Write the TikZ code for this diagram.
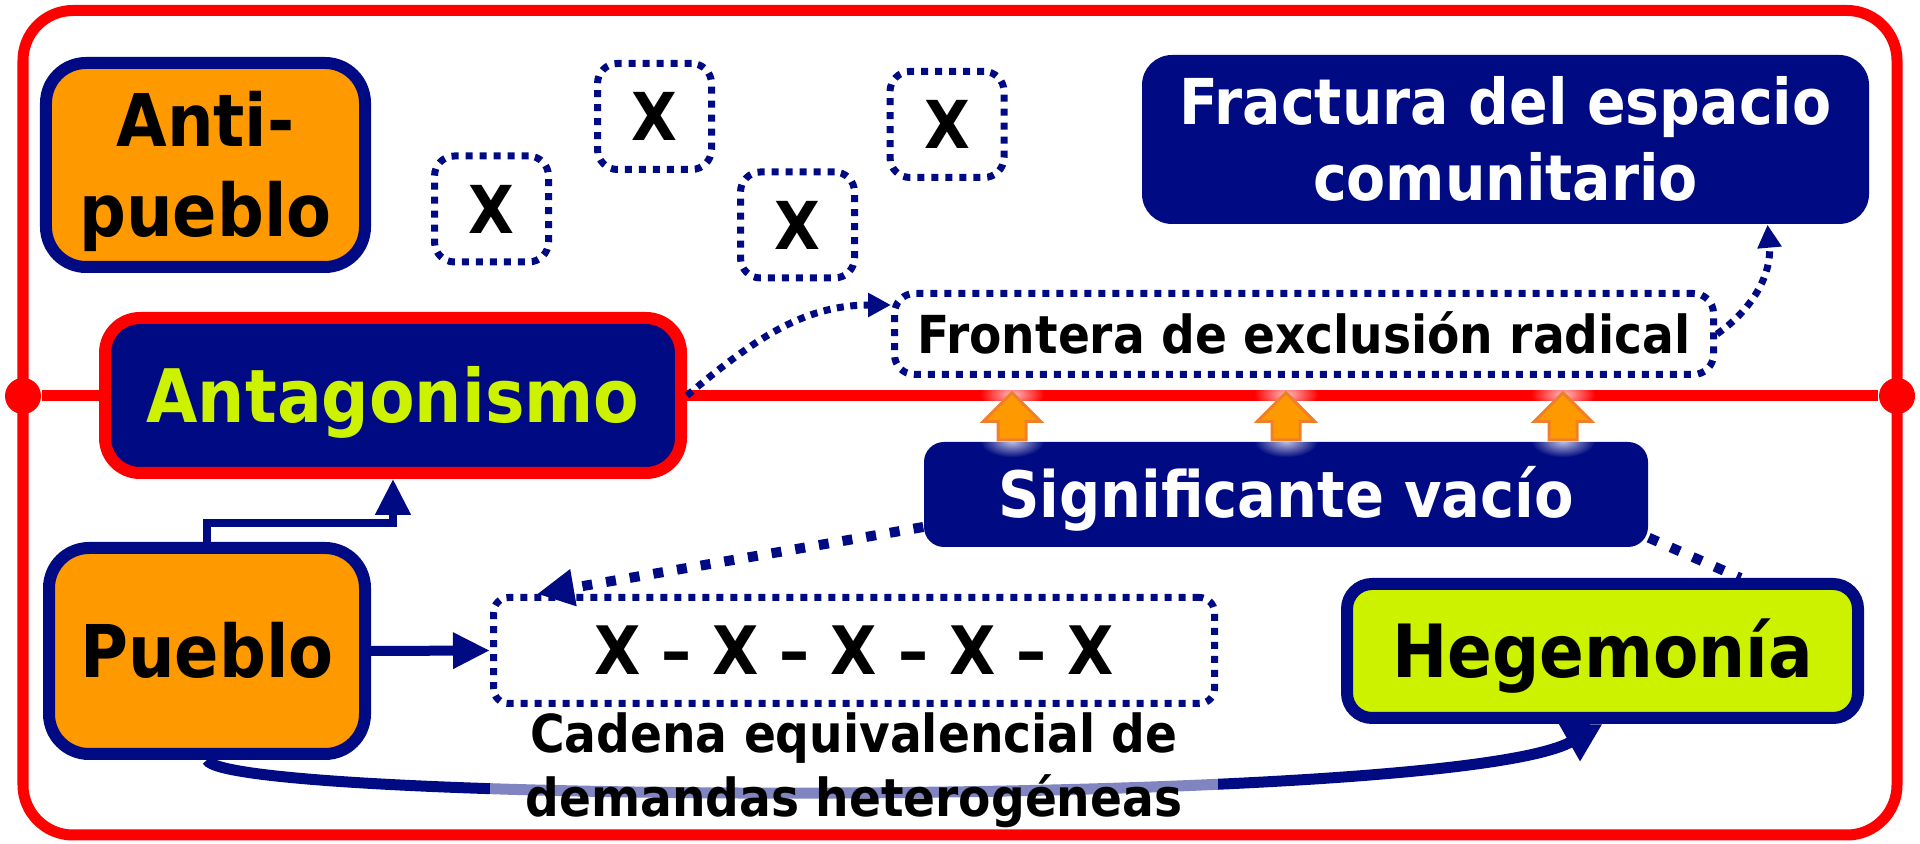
\documentclass[tikz,border=0pt]{standalone}
\usepackage{fontspec}
\setmainfont{DejaVu Sans Condensed}
\usetikzlibrary{arrows.meta,shapes.arrows,fadings}

\definecolor{navyblue}{RGB}{0,10,130}
\definecolor{peorange}{RGB}{255,153,0}
\definecolor{limegreen}{RGB}{204,242,0}
\definecolor{arrowedge}{RGB}{240,128,40}

\tikzfading[name=glowfade, inner color=transparent!25, outer color=transparent!100]

\begin{document}
\begin{tikzpicture}[
                        >={Triangle[length=0.36cm,width=0.34cm]},
                        orangebox/.style={rectangle, rounded corners=0.4cm, draw=navyblue, line width=0.12cm, fill=peorange, inner sep=0pt, align=center},
                        dotbox/.style={rectangle, rounded corners=0.2cm, draw=navyblue, line width=0.07cm, dash pattern=on 0.07cm off 0.07cm, fill=white, inner sep=0pt, align=center},
                        navybox/.style={rectangle, rounded corners=0.25cm, fill=navyblue, text=white, inner sep=0pt, align=center},
                        dotline/.style={navyblue, line width=0.07cm, dash pattern=on 0.07cm off 0.065cm},
                        dashline/.style={navyblue, line width=0.1cm, dash pattern=on 0.1cm off 0.14cm},
                        upblock/.style={single arrow, rotate=90, draw=arrowedge, fill=peorange, line width=0.03cm, minimum height=0.47cm, single arrow head extend=0.145cm, inner xsep=0pt, inner ysep=0.125cm}
                    ]
                    \useasboundingbox (0,0) rectangle (19.2,-8.44);

                    % Frame and border line
                    \draw [red, line width=0.11cm, rounded corners=0.5cm] (0.23,-0.105) rectangle (18.97,-8.35);
                    \node [circle, fill=red, minimum size=0.36cm, inner sep=0pt] (dotL) at (0.23,-3.96) {};
                    \node [circle, fill=red, minimum size=0.36cm, inner sep=0pt] (dotR) at (18.97,-3.96) {};
                    \draw [red, line width=0.11cm] (dotL) -- (dotR);

                    % Blocks
                    \node [orangebox, minimum width=3.19cm, minimum height=2.04cm, text height=40.7pt, text depth=0pt, font=\bfseries\fontsize{20.7}{25.6}\selectfont] (antipueblo) at (2.055,-1.65) {Anti-\\pueblo};
                    \node [dotbox, minimum width=1.14cm, minimum height=1.06cm, text height=13.7pt, text depth=0pt, font=\bfseries\fontsize{18.8}{22}\selectfont] (x1) at (4.915,-2.09) {X};
                    \node [dotbox, minimum width=1.14cm, minimum height=1.06cm, text height=13.7pt, text depth=0pt, font=\bfseries\fontsize{18.8}{22}\selectfont] (x2) at (6.545,-1.165) {X};
                    \node [dotbox, minimum width=1.14cm, minimum height=1.06cm, text height=13.7pt, text depth=0pt, font=\bfseries\fontsize{18.8}{22}\selectfont] (x3) at (7.975,-2.25) {X};
                    \node [dotbox, minimum width=1.14cm, minimum height=1.06cm, text height=13.7pt, text depth=0pt, font=\bfseries\fontsize{18.8}{22}\selectfont] (x4) at (9.47,-1.245) {X};
                    \node [navybox, rounded corners=0.3cm, minimum width=7.27cm, minimum height=1.69cm, text height=34.7pt, text depth=0pt, font=\bfseries\fontsize{18}{21.6}\selectfont] (fractura) at (15.055,-1.395) {Fractura del espacio\\comunitario};
                    \node [dotbox, minimum width=8.19cm, minimum height=0.81cm, text height=10.9pt, text depth=0pt, font=\bfseries\fontsize{14.9}{18}\selectfont] (frontera) at (13.04,-3.34) {Frontera de exclusión radical};
                    \node [navybox, draw=red, line width=0.12cm, rounded corners=0.35cm, text=limegreen, minimum width=5.76cm, minimum height=1.55cm, text height=15.3pt, text depth=0pt, font=\bfseries\fontsize{21}{25}\selectfont] (antagonismo) at (3.93,-3.955) {Antagonismo};
                    \node [navybox, rounded corners=0.2cm, minimum width=7.24cm, minimum height=1.05cm, text height=13.2pt, text depth=0pt, font=\bfseries\fontsize{18.2}{22}\selectfont] (significante) at (12.86,-4.945) {Significante vacío};
                    \node [orangebox, minimum width=3.16cm, minimum height=2.06cm, text height=15.1pt, text depth=0pt, font=\bfseries\fontsize{20.7}{25}\selectfont] (pueblo) at (2.07,-6.51) {Pueblo};
                    \node [orangebox, rounded corners=0.25cm, fill=limegreen, minimum width=5.11cm, minimum height=1.34cm, text height=15.2pt, text depth=0pt, font=\bfseries\fontsize{20.9}{25}\selectfont] (hegemonia) at (16.025,-6.51) {Hegemonía};
                    \node [dotbox, rounded corners=0.15cm, minimum width=7.21cm, minimum height=1.06cm, text height=13.9pt, text depth=0pt, font=\bfseries\fontsize{19}{23}\selectfont] (chain) at (8.54,-6.505) {X -- X -- X -- X -- X};

                    % Glow and block arrows
                    \foreach \dx in {-2.74,0,2.77} {
                        \fill [white, path fading=glowfade] ([xshift=\dx cm]significante.north) ellipse (0.32cm and 0.16cm);
                        \fill [white, path fading=glowfade] ([xshift=\dx cm, yshift=0.47cm]significante.north) ellipse (0.32cm and 0.16cm);
                    }
                    \node [upblock, anchor=tail] (up1) at ([xshift=-2.74cm]significante.north) {};
                    \node [upblock, anchor=tail] (up2) at (significante.north) {};
                    \node [upblock, anchor=tail] (up3) at ([xshift=2.77cm]significante.north) {};

                    % Connections
                    \draw [dotline, -{Triangle[length=0.23cm,width=0.23cm]}] (antagonismo.east) to[out=40, in=180] ([yshift=0.29cm]frontera.west);
                    \draw [dotline, -{Triangle[length=0.23cm,width=0.23cm]}] (frontera.east) to[out=35, in=-85] ([xshift=2.62cm]fractura.south);
                    \draw [navyblue, line width=0.08cm, ->] (pueblo.north) -- ++(0,0.19) -| (antagonismo.south);
                    \draw [navyblue, line width=0.1cm, -{Triangle[length=0.37cm,width=0.34cm]}] (pueblo.east) -- (chain.west);
                    \draw [dashline, -{Triangle[length=0.37cm,width=0.35cm]}] ([yshift=-0.325cm]significante.west) -- ([xshift=0.47cm]chain.north west);
                    \draw [dashline] ([yshift=0.1cm]significante.south east) -- ([xshift=1.38cm]hegemonia.north);
                    \draw [navyblue, line width=0.11cm, -{Triangle[length=0.38cm,width=0.4cm]}] (pueblo.south) .. controls +(0.2,-0.45) and +(-1.5,-0.85) .. (hegemonia.south);

                    % Caption over the curve
                    \node [fill=white, fill opacity=0.5, text opacity=1, inner sep=0pt, minimum width=7.28cm, align=center, text height=29.1pt, text depth=0pt, font=\bfseries\fontsize{14.9}{18.2}\selectfont] (cadena) at (8.54,-7.655) {Cadena equivalencial de\\demandas heterogéneas};
                \end{tikzpicture}
\end{document}
